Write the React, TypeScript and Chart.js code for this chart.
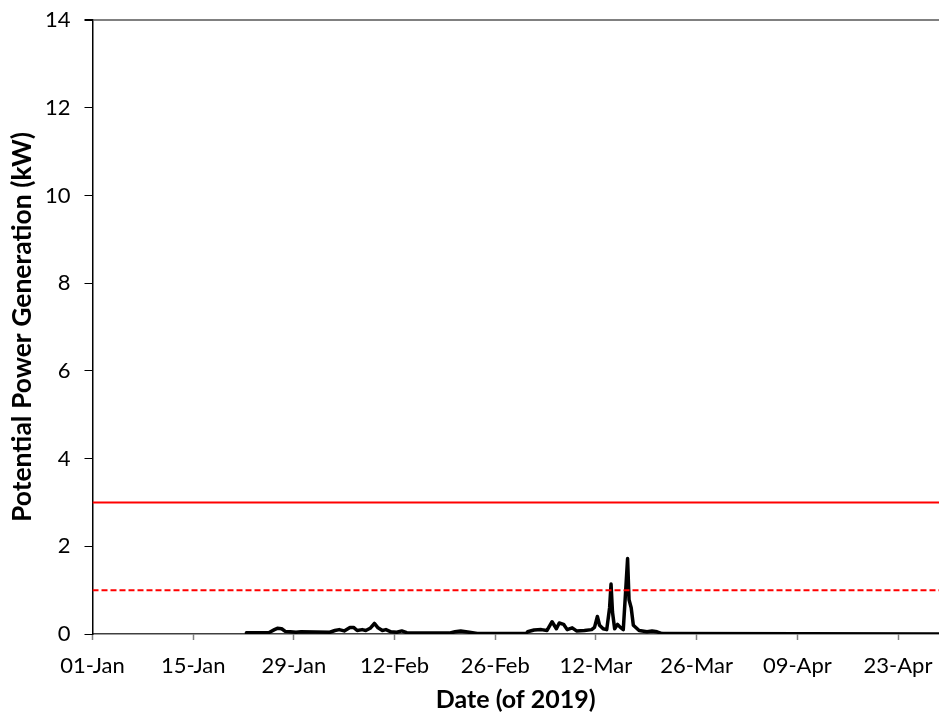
import React, { useEffect, useRef } from "react";
import { Chart, registerables } from "chart.js";

Chart.register(...registerables);

// Days since 01-Jan-2019
const powerDays = [
  21.4, 24.5, 25.3, 25.7, 26.3, 26.8, 27.5, 28.3, 29.0, 33.0, 33.7, 34.3, 35.0, 35.8, 36.3, 36.8,
  37.5, 38.0, 38.6, 39.2, 39.7, 40.3, 40.8, 41.5, 42.3, 43.0, 43.7, 45.0, 49.6, 50.4, 51.2, 52.4,
  53.5, 60.3, 60.5, 61.4, 62.4, 63.2, 63.9, 64.5, 64.9, 65.5, 66.0, 66.7, 67.3, 68.4, 69.4, 69.8,
  70.2, 70.5, 71.0, 71.5, 71.9, 72.1, 72.3, 72.6, 73.0, 73.4, 73.8, 74.1, 74.4, 74.6, 74.9, 75.2,
  76.0, 77.1, 77.8, 78.5, 79.2, 117.7,
];
// Potential power generation (kW)
const powerKW = [
  0.03, 0.03, 0.1, 0.13, 0.12, 0.06, 0.05, 0.04, 0.05, 0.04, 0.08, 0.1, 0.07, 0.15, 0.15, 0.08,
  0.1, 0.08, 0.13, 0.24, 0.14, 0.08, 0.1, 0.05, 0.04, 0.07, 0.03, 0.02, 0.02, 0.05, 0.07, 0.04,
  0.01, 0.01, 0.05, 0.09, 0.1, 0.08, 0.28, 0.12, 0.25, 0.22, 0.1, 0.14, 0.07, 0.08, 0.1, 0.15,
  0.4, 0.2, 0.12, 0.1, 0.6, 1.14, 0.5, 0.12, 0.22, 0.15, 0.1, 0.9, 1.72, 0.78, 0.6, 0.2,
  0.08, 0.05, 0.07, 0.05, 0.01, 0.0,
];

const xMin = 0;
const xMax = 117.7;
const xTickDays = [0, 14, 28, 42, 56, 70, 84, 98, 112];
const xTickLabels = ["01-Jan", "15-Jan", "29-Jan", "12-Feb", "26-Feb", "12-Mar", "26-Mar", "09-Apr", "23-Apr"];
const yTickValues = [0, 2, 4, 6, 8, 10, 12, 14];

const thresholdHigh = 3;
const thresholdLow = 1;

const FONT = "Lato, 'Open Sans', sans-serif";

export default function App() {
  const ref = useRef<HTMLCanvasElement>(null);

  useEffect(() => {
    document.body.style.margin = "0";
    const canvas = ref.current;
    if (!canvas) return;
    const chart = new Chart(canvas, {
      type: "line",
      data: {
        datasets: [
          {
            data: [
              { x: xMin, y: thresholdHigh },
              { x: xMax, y: thresholdHigh },
            ],
            borderColor: "#ff0000",
            borderWidth: 2,
            pointRadius: 0,
          },
          {
            data: [
              { x: xMin, y: thresholdLow },
              { x: xMax, y: thresholdLow },
            ],
            borderColor: "#ff0000",
            borderWidth: 2,
            borderDash: [6, 3],
            pointRadius: 0,
          },
          {
            data: powerDays.map((d, i) => ({ x: d, y: powerKW[i] })),
            borderColor: "#000000",
            borderWidth: 3.5,
            pointRadius: 0,
            tension: 0,
            borderJoinStyle: "round",
            borderCapStyle: "round",
          },
        ],
      },
      options: {
        animation: false,
        responsive: false,
        devicePixelRatio: 1,
        layout: { padding: { top: 20, right: 0, left: 0, bottom: 0 } },
        plugins: { legend: { display: false }, tooltip: { enabled: false } },
        scales: {
          x: {
            type: "linear",
            min: xMin,
            max: xMax,
            afterFit: (s: any) => {
              s.height = 81;
              s.paddingRight = 0;
              s.paddingLeft = 0;
            },
            afterBuildTicks: (s: any) => {
              s.ticks = xTickDays.map((v) => ({ value: v }));
            },
            ticks: {
              autoSkip: false,
              maxRotation: 0,
              padding: 13,
              color: "#000",
              font: { family: FONT, size: 22 },
              callback: (v: any) => {
                const i = xTickDays.indexOf(Number(v));
                return i >= 0 ? xTickLabels[i] : "";
              },
            },
            grid: {
              drawOnChartArea: false,
              drawTicks: true,
              tickLength: 6,
              tickColor: "#808080",
              tickWidth: 1.5,
            },
            border: { color: "#404040", width: 1.5 },
            title: {
              display: true,
              text: "Date (of 2019)",
              color: "#000",
              font: { family: FONT, size: 25, weight: "bold" },
              padding: { top: 0, bottom: 0 },
            },
          },
          y: {
            min: 0,
            max: 14,
            afterFit: (s: any) => {
              s.width = 92.5;
              s.paddingTop = 0;
              s.paddingBottom = 0;
            },
            afterBuildTicks: (s: any) => {
              s.ticks = yTickValues.map((v) => ({ value: v }));
            },
            ticks: {
              padding: 14,
              color: "#000",
              font: { family: FONT, size: 22 },
            },
            grid: {
              drawTicks: true,
              tickLength: 8,
              tickColor: "#000",
              color: (ctx: any) => (ctx.tick && ctx.tick.value === 14 ? "#808080" : "rgba(0,0,0,0)"),
              lineWidth: (ctx: any) => (ctx.tick && ctx.tick.value === 14 ? 2 : 1),
            },
            border: { color: "#000", width: 1.5 },
            title: {
              display: true,
              text: "Potential Power Generation (kW)",
              color: "#000",
              font: { family: FONT, size: 26.5, weight: "bold" },
              padding: { top: 7, bottom: 0 },
            },
          },
        },
      },
    });
    return () => chart.destroy();
  }, []);

  return (
    <div style={{ width: 939, height: 715 }}>
      <canvas ref={ref} width={939} height={715} style={{ display: "block" }} />
    </div>
  );
}
